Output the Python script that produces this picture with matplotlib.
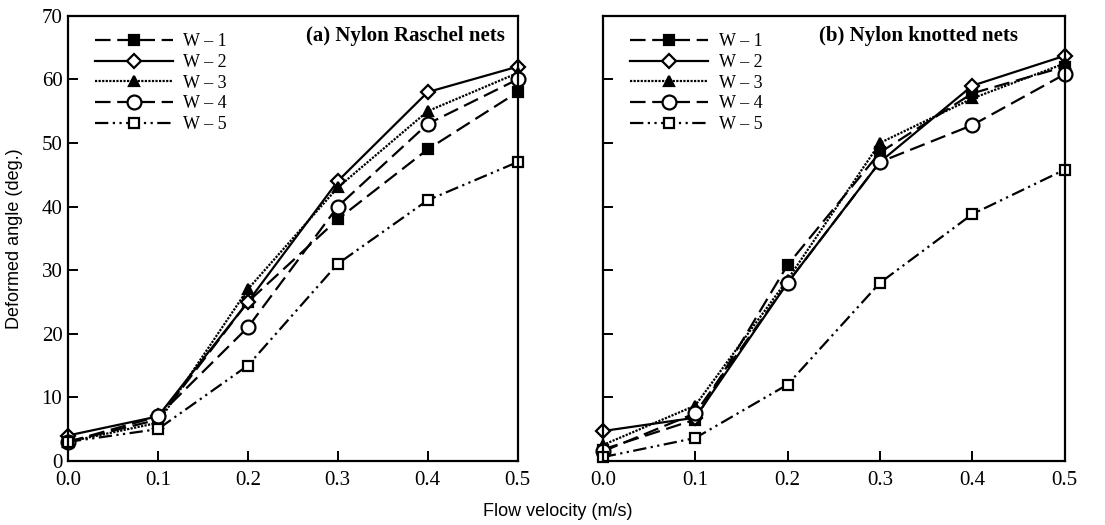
import matplotlib
matplotlib.use("Agg")
import matplotlib.pyplot as plt

velocity = [0.0, 0.1, 0.2, 0.3, 0.4, 0.5]
series_names = ["W \u2013 1", "W \u2013 2", "W \u2013 3", "W \u2013 4", "W \u2013 5"]

# (a) Nylon Raschel nets
raschel_w1 = [3.0, 6.5, 25.0, 38.0, 49.0, 58.0]
raschel_w2 = [4.0, 7.0, 25.0, 44.0, 58.0, 62.0]
raschel_w3 = [3.0, 6.0, 27.0, 43.0, 55.0, 61.0]
raschel_w4 = [3.0, 7.0, 21.0, 40.0, 53.0, 60.0]
raschel_w5 = [3.0, 5.0, 15.0, 31.0, 41.0, 47.0]

# (b) Nylon knotted nets
knotted_w1 = [1.8, 6.5, 30.8, 48.5, 57.8, 62.0]
knotted_w2 = [4.7, 6.8, 28.0, 47.0, 59.0, 63.7]
knotted_w3 = [2.5, 8.7, 28.5, 50.0, 57.0, 62.5]
knotted_w4 = [1.5, 7.5, 28.0, 47.0, 52.8, 60.8]
knotted_w5 = [0.6, 3.6, 12.0, 28.0, 38.8, 45.8]

panel_titles = ["(a) Nylon Raschel nets", "(b) Nylon knotted nets"]
title_x = [0.971, 0.899]

# line style per series: dashes, marker, fill, marker size
styles = [
    dict(dashes=(7, 3), marker="s", mfc="black", ms=7),
    dict(dashes=(), marker="D", mfc="white", ms=7),
    dict(dashes=(1, 0.6), marker="^", mfc="black", ms=7),
    dict(dashes=(7, 3), marker="o", mfc="white", ms=10),
    dict(dashes=(6, 2, 1, 2, 1, 2), marker="s", mfc="white", ms=7),
]

serif = "Liberation Serif"
sans = "Liberation Sans"

fig = plt.figure(figsize=(11.05, 5.25), dpi=100)
ax1 = fig.add_axes([0.0615, 0.122, 0.407, 0.848])
ax2 = fig.add_axes([0.5455, 0.122, 0.418, 0.848])

panels = [
    (ax1, [raschel_w1, raschel_w2, raschel_w3, raschel_w4, raschel_w5]),
    (ax2, [knotted_w1, knotted_w2, knotted_w3, knotted_w4, knotted_w5]),
]

for i, (ax, data) in enumerate(panels):
    for name, vals, st in zip(series_names, data, styles):
        line, = ax.plot(velocity, vals, color="black", linewidth=1.6,
                        marker=st["marker"], markerfacecolor=st["mfc"],
                        markeredgecolor="black", markeredgewidth=1.6,
                        markersize=st["ms"], label=name, clip_on=False)
        if st["dashes"]:
            line.set_dashes(st["dashes"])
    ax.set_xlim(0, 0.5)
    ax.set_ylim(0, 70)
    ax.set_xticks([0.0, 0.1, 0.2, 0.3, 0.4, 0.5])
    ax.set_xticklabels(["0.0", "0.1", "0.2", "0.3", "0.4", "0.5"])
    ax.set_yticks(range(0, 71, 10))
    ax.tick_params(direction="in", length=7, width=1.4, top=False, right=False,
                   labelsize=15)
    ax.tick_params(axis="x", pad=7)
    ax.tick_params(axis="y", pad=4)
    for lab in ax.get_xticklabels() + ax.get_yticklabels():
        lab.set_fontfamily(serif)
    for sp in ax.spines.values():
        sp.set_linewidth(1.6)
    ax.text(title_x[i], 0.955, panel_titles[i], transform=ax.transAxes, ha="right",
            va="center", fontsize=15, fontweight="bold", fontfamily=serif)
    ax.legend(loc="upper left", bbox_to_anchor=(0.016, 1.005), frameon=False,
              handlelength=4.3, prop={"family": serif, "size": 13},
              labelspacing=0.2, borderaxespad=0.7, handletextpad=0.6)

ax2.tick_params(labelleft=False)

ax1.set_ylabel("Deformed angle (deg.)", fontsize=13, fontfamily=sans)
ax1.yaxis.set_label_coords(-0.10, 0.5)
fig.text(0.505, 0.025, "Flow velocity (m/s)", ha="center", va="center",
         fontsize=13, fontfamily=sans)

fig.savefig("out.png", dpi=100)
